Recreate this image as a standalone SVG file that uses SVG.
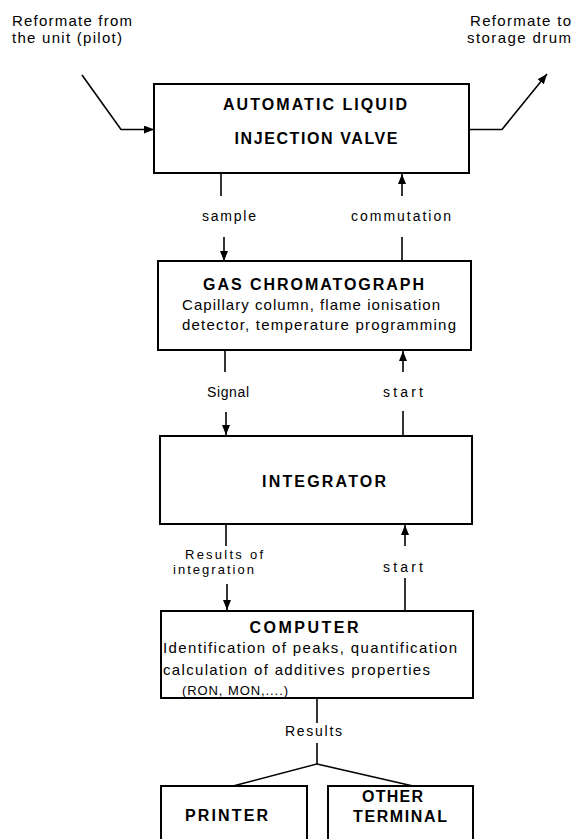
<svg xmlns="http://www.w3.org/2000/svg" width="573" height="839" viewBox="0 0 573 839">
<style>
.box{fill:#fff;stroke:#000;stroke-width:2}
.ln{fill:none;stroke:#000;stroke-width:1.6}
.t{font-family:"Liberation Sans",Arial,sans-serif;fill:#000}
.b{font-weight:bold;font-size:16px}
.s{font-size:14px}
.r{font-size:13px}
.m{font-size:15px}
.h{font-size:15px}
</style>
<defs>
<marker id="ah" markerUnits="userSpaceOnUse" markerWidth="12" markerHeight="10" refX="10" refY="4" orient="auto">
<path d="M0,0 L10,4 L0,8 z" fill="#000"/>
</marker>
</defs>
<rect width="573" height="839" fill="#fff"/>
<g id="labels">
<text class="t h" x="12" y="26" textLength="120" lengthAdjust="spacing">Reformate from</text>
<text class="t h" x="12" y="43" textLength="110" lengthAdjust="spacing">the unit (pilot)</text>
<text class="t h" x="470" y="26" textLength="101" lengthAdjust="spacing">Reformate to</text>
<text class="t h" x="467" y="43" textLength="104" lengthAdjust="spacing">storage drum</text>
</g>
<g id="connectors">
<polyline class="ln" points="82,75 121,129.5 154,129.5" marker-end="url(#ah)"/>
<polyline class="ln" points="469,129.5 502,129.5 547,74" marker-end="url(#ah)"/>
<line class="ln" x1="221" y1="173" x2="221" y2="196"/>
<line class="ln" x1="224" y1="237" x2="224" y2="261" marker-end="url(#ah)"/>
<text class="t s" x="229" y="221" text-anchor="middle" textLength="54" lengthAdjust="spacing">sample</text>
<line class="ln" x1="402" y1="196" x2="402" y2="174" marker-end="url(#ah)"/>
<line class="ln" x1="402" y1="237" x2="402" y2="262"/>
<text class="t s" x="401" y="221" text-anchor="middle" textLength="100" lengthAdjust="spacing">commutation</text>
<line class="ln" x1="225" y1="350" x2="225" y2="372"/>
<line class="ln" x1="226" y1="412" x2="226" y2="435" marker-end="url(#ah)"/>
<text class="t s" x="228" y="397" text-anchor="middle" textLength="42" lengthAdjust="spacing">Signal</text>
<line class="ln" x1="403" y1="372" x2="403" y2="351" marker-end="url(#ah)"/>
<line class="ln" x1="403" y1="411" x2="403" y2="436"/>
<text class="t s" x="403" y="397" text-anchor="middle" textLength="40" lengthAdjust="spacing">start</text>
<line class="ln" x1="226" y1="524" x2="226" y2="546"/>
<line class="ln" x1="227" y1="584" x2="227" y2="610" marker-end="url(#ah)"/>
<text class="t r" x="224" y="559" text-anchor="middle" textLength="78" lengthAdjust="spacing">Results of</text>
<text class="t r" x="213.5" y="574" text-anchor="middle" textLength="81" lengthAdjust="spacing">integration</text>
<line class="ln" x1="405" y1="546" x2="405" y2="525" marker-end="url(#ah)"/>
<line class="ln" x1="405" y1="578" x2="405" y2="611"/>
<text class="t s" x="403" y="572" text-anchor="middle" textLength="40" lengthAdjust="spacing">start</text>
<line class="ln" x1="317" y1="698" x2="317" y2="723"/>
<text class="t s" x="313.5" y="736" text-anchor="middle" textLength="57" lengthAdjust="spacing">Results</text>
<polyline class="ln" points="317,743 317,764 233,786"/>
<polyline class="ln" points="317,764 413,786"/>
</g>
<g id="valve">
<rect class="box" x="154" y="84" width="315" height="89"/>
<text class="t b" x="315" y="110" text-anchor="middle" textLength="184" lengthAdjust="spacing">AUTOMATIC LIQUID</text>
<text class="t b" x="316" y="143.5" text-anchor="middle" textLength="163" lengthAdjust="spacing">INJECTION VALVE</text>
</g>
<g id="gc">
<rect class="box" x="158" y="261" width="313" height="89"/>
<text class="t b" x="313.5" y="290" text-anchor="middle" textLength="221" lengthAdjust="spacing">GAS CHROMATOGRAPH</text>
<text class="t m" x="182" y="310" textLength="258" lengthAdjust="spacing">Capillary column, flame ionisation</text>
<text class="t m" x="182" y="330" textLength="274" lengthAdjust="spacing">detector, temperature programming</text>
</g>
<g id="integrator">
<rect class="box" x="160" y="436" width="312" height="88"/>
<text class="t b" x="324" y="487" text-anchor="middle" textLength="124" lengthAdjust="spacing">INTEGRATOR</text>
</g>
<g id="computer">
<rect class="box" x="161" y="611" width="312" height="87"/>
<text class="t b" x="304" y="633" text-anchor="middle" textLength="109" lengthAdjust="spacing">COMPUTER</text>
<text class="t m" x="163" y="653" textLength="294" lengthAdjust="spacing">Identification of peaks, quantification</text>
<text class="t m" x="163" y="675" textLength="267" lengthAdjust="spacing">calculation of additives properties</text>
<text class="t" style="font-size:13px" x="182" y="695" textLength="106" lengthAdjust="spacing">(RON, MON,....)</text>
</g>
<g id="printer">
<rect class="box" x="161" y="786" width="146" height="60"/>
<text class="t b" x="226.5" y="821" text-anchor="middle" textLength="83" lengthAdjust="spacing">PRINTER</text>
</g>
<g id="terminal">
<rect class="box" x="328" y="786" width="145" height="60"/>
<text class="t b" x="392.5" y="802" text-anchor="middle" textLength="61" lengthAdjust="spacing">OTHER</text>
<text class="t b" x="400" y="822" text-anchor="middle" textLength="94" lengthAdjust="spacing">TERMINAL</text>
</g>
</svg>
